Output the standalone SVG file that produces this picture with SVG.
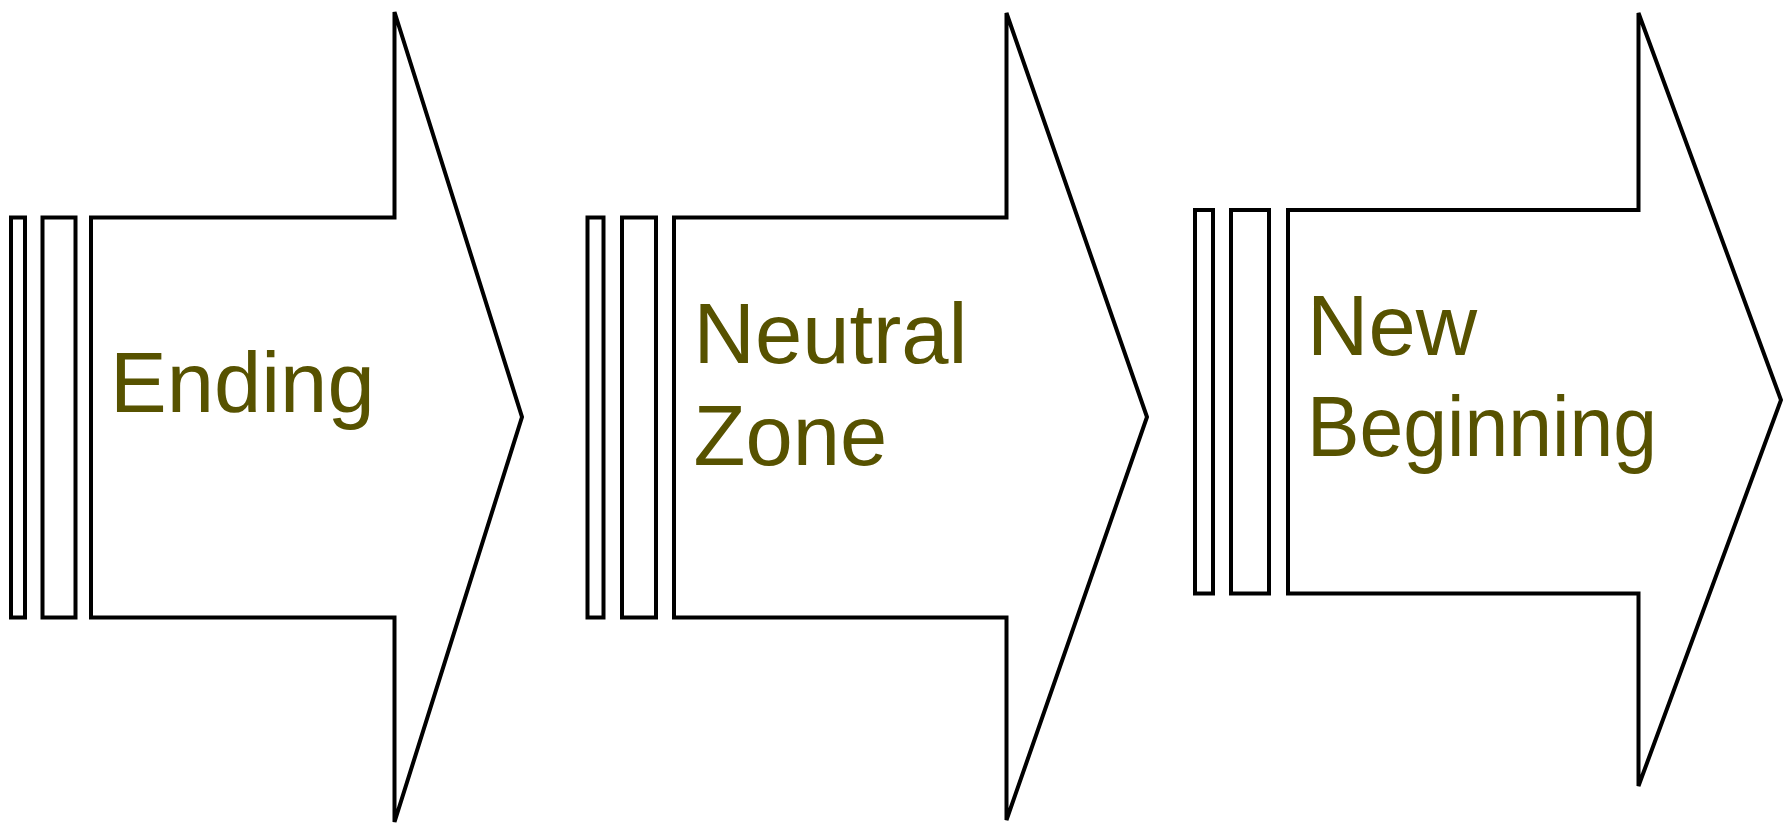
<svg xmlns="http://www.w3.org/2000/svg" width="1783" height="826" viewBox="0 0 1783 826">
<style>
.s{fill:#ffffff;stroke:#000000;stroke-width:4;stroke-linejoin:miter}
.t{font-family:"Liberation Sans",Arial,sans-serif;font-size:85px;fill:#575200}
</style>
<rect width="1783" height="826" fill="#ffffff"/>
<g id="ending">
<rect class="s" x="11" y="217.5" width="14" height="400"/>
<rect class="s" x="42.5" y="217.5" width="33" height="400"/>
<polygon class="s" points="91,217.5 394.5,217.5 394.5,12 522,417 394.5,822 394.5,617.5 91,617.5"/>
<text class="t" x="110" y="412">Ending</text>
</g>
<g id="neutral-zone">
<rect class="s" x="587.5" y="217.5" width="16" height="400"/>
<rect class="s" x="622" y="217.5" width="34" height="400"/>
<polygon class="s" points="674,217.5 1006.5,217.5 1006.5,13 1147,417 1006.5,820 1006.5,617.5 674,617.5"/>
<text class="t" x="693.5" y="362.5">Neutral<tspan x="693.5" y="465">Zone</tspan></text>
</g>
<g id="new-beginning">
<rect class="s" x="1195" y="210" width="18" height="383.5"/>
<rect class="s" x="1231" y="210" width="38" height="383.5"/>
<polygon class="s" points="1288,210 1638.5,210 1638.5,13 1781,400 1638.5,786 1638.5,593.5 1288,593.5"/>
<text class="t" x="1307" y="355">New</text>
<text class="t" x="1307" y="456" textLength="350" lengthAdjust="spacingAndGlyphs">Beginning</text>
</g>
<g id="connectors"></g>
</svg>
